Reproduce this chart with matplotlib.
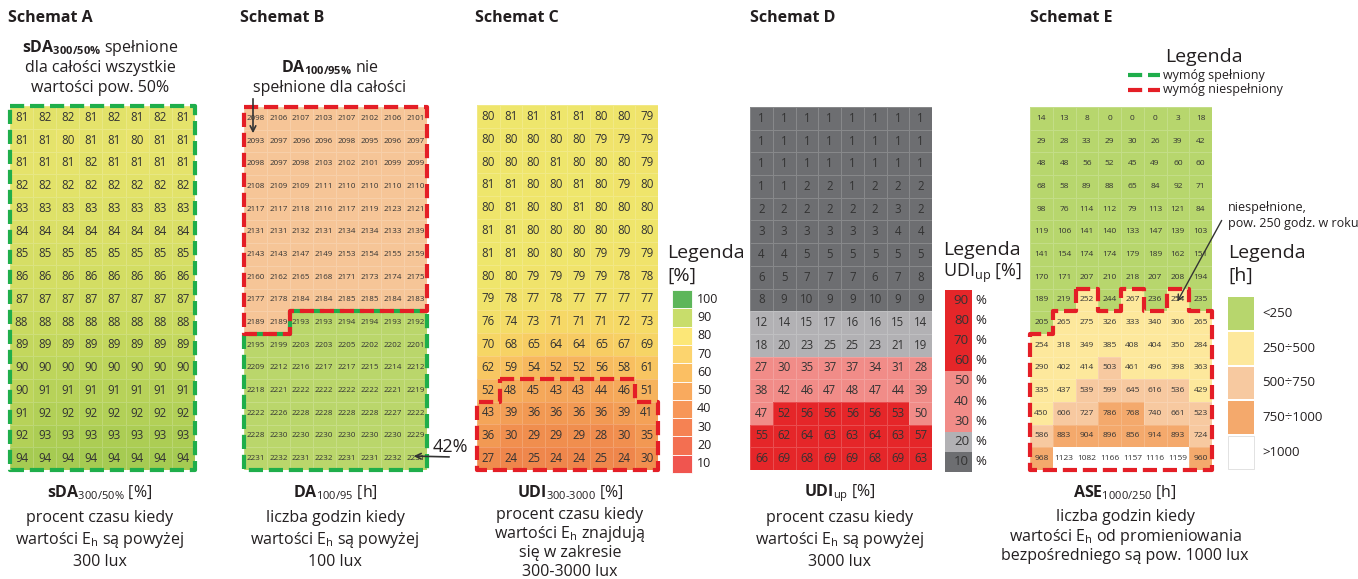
import matplotlib
matplotlib.use("Agg")
import matplotlib.pyplot as plt
import numpy as np
from matplotlib.colors import LinearSegmentedColormap, ListedColormap, BoundaryNorm

plt.rcParams['font.family'] = ['Open Sans', 'DejaVu Sans']
plt.rcParams['mathtext.fontset'] = 'custom'
plt.rcParams['mathtext.rm'] = 'Open Sans'
plt.rcParams['mathtext.bf'] = 'Open Sans:bold'
plt.rcParams['mathtext.it'] = 'Open Sans:italic'

W, H = 1358, 579

# --- dane ---
sda = [[81, 82, 82, 81, 82, 81, 82, 81],
       [81, 81, 80, 81, 81, 80, 81, 81],
       [81, 81, 81, 82, 81, 81, 81, 81],
       [82, 82, 82, 82, 82, 82, 82, 82],
       [83, 83, 83, 83, 83, 83, 83, 83],
       [84, 84, 84, 84, 84, 84, 84, 84],
       [85, 85, 85, 85, 85, 85, 85, 85],
       [86, 86, 86, 86, 86, 86, 86, 86],
       [87, 87, 87, 87, 87, 87, 87, 87],
       [88, 88, 88, 88, 88, 88, 88, 88],
       [89, 89, 89, 89, 89, 89, 89, 89],
       [90, 90, 90, 90, 90, 90, 90, 90],
       [90, 91, 91, 91, 91, 91, 91, 91],
       [91, 92, 92, 92, 92, 92, 92, 92],
       [92, 93, 93, 93, 93, 93, 93, 93],
       [94, 94, 94, 94, 94, 94, 94, 94]]

da = [[2098, 2106, 2107, 2103, 2107, 2102, 2106, 2101],
      [2093, 2097, 2096, 2096, 2098, 2095, 2096, 2097],
      [2098, 2097, 2098, 2103, 2102, 2101, 2099, 2099],
      [2108, 2109, 2109, 2111, 2110, 2110, 2110, 2110],
      [2117, 2117, 2118, 2116, 2117, 2119, 2123, 2121],
      [2131, 2131, 2132, 2131, 2134, 2134, 2133, 2139],
      [2143, 2143, 2147, 2149, 2153, 2154, 2155, 2159],
      [2160, 2162, 2165, 2168, 2171, 2173, 2174, 2175],
      [2177, 2178, 2184, 2184, 2185, 2185, 2184, 2183],
      [2189, 2189, 2193, 2193, 2194, 2194, 2193, 2192],
      [2195, 2199, 2203, 2203, 2205, 2202, 2202, 2201],
      [2209, 2212, 2216, 2217, 2217, 2215, 2214, 2212],
      [2218, 2221, 2222, 2222, 2222, 2222, 2221, 2219],
      [2222, 2226, 2228, 2228, 2228, 2228, 2227, 2222],
      [2228, 2230, 2230, 2230, 2230, 2230, 2230, 2229],
      [2231, 2232, 2231, 2232, 2231, 2231, 2232, 2231]]

udi = [[80, 81, 81, 81, 81, 80, 80, 79],
       [80, 80, 80, 80, 80, 79, 79, 79],
       [80, 80, 80, 81, 80, 80, 80, 79],
       [81, 81, 80, 80, 81, 80, 79, 80],
       [80, 81, 80, 80, 81, 80, 80, 80],
       [81, 81, 80, 80, 80, 80, 80, 80],
       [81, 81, 80, 80, 80, 79, 79, 79],
       [80, 80, 79, 79, 79, 79, 78, 78],
       [79, 78, 77, 78, 77, 77, 77, 77],
       [76, 74, 73, 71, 71, 71, 72, 73],
       [70, 68, 65, 64, 64, 65, 67, 69],
       [62, 59, 54, 52, 52, 56, 58, 61],
       [52, 48, 45, 43, 43, 44, 46, 51],
       [43, 39, 36, 36, 36, 36, 39, 41],
       [36, 30, 29, 29, 29, 28, 30, 35],
       [27, 24, 25, 24, 24, 25, 24, 30]]

udi_up = [[1, 1, 1, 1, 1, 1, 1, 1],
          [1, 1, 1, 1, 1, 1, 1, 1],
          [1, 1, 1, 1, 1, 1, 1, 1],
          [1, 1, 2, 2, 1, 2, 2, 2],
          [2, 2, 2, 2, 2, 2, 3, 2],
          [3, 3, 3, 3, 3, 3, 4, 4],
          [4, 4, 5, 5, 5, 5, 5, 5],
          [6, 5, 7, 7, 7, 6, 7, 8],
          [8, 9, 10, 9, 9, 10, 9, 9],
          [12, 14, 15, 17, 16, 16, 15, 14],
          [18, 20, 23, 25, 25, 23, 21, 19],
          [27, 30, 35, 37, 37, 34, 31, 28],
          [38, 42, 46, 47, 48, 47, 44, 39],
          [47, 52, 56, 56, 56, 56, 53, 50],
          [55, 62, 64, 63, 63, 64, 63, 57],
          [66, 69, 68, 69, 69, 68, 69, 63]]

ase = [[14, 13, 8, 0, 0, 0, 3, 18],
       [29, 28, 33, 29, 30, 26, 39, 42],
       [48, 48, 56, 52, 45, 49, 60, 60],
       [68, 58, 89, 88, 65, 84, 92, 71],
       [98, 76, 114, 112, 79, 113, 121, 84],
       [119, 106, 141, 140, 133, 147, 139, 103],
       [141, 154, 174, 174, 179, 189, 162, 151],
       [170, 171, 207, 210, 218, 207, 208, 194],
       [189, 219, 252, 244, 267, 236, 254, 235],
       [205, 265, 275, 326, 333, 340, 306, 265],
       [254, 318, 349, 385, 408, 404, 350, 284],
       [290, 402, 414, 503, 461, 496, 398, 363],
       [335, 437, 539, 599, 645, 616, 536, 429],
       [450, 606, 727, 786, 768, 740, 661, 523],
       [586, 883, 904, 896, 856, 914, 893, 724],
       [968, 1123, 1082, 1166, 1157, 1116, 1159, 960]]

udi_legend = [100, 90, 80, 70, 60, 50, 40, 30, 20, 10]
udi_up_legend = [90, 80, 70, 60, 50, 40, 30, 20, 10]
ase_legend = ['<250', '250÷500', '500÷750', '750÷1000', '>1000']

# --- kolory ---
udi_leg_colors = ['#5db65a', '#c8dd6b', '#fce777', '#fcd46e', '#fbbf63',
                  '#f9aa5e', '#f79658', '#f58253', '#f36f51', '#f0554f']
cmap_a = LinearSegmentedColormap.from_list('a', ['#e9e46c', '#cfdc62', '#a6cb52'])
cmap_c = LinearSegmentedColormap.from_list(
    'c', [(0.0, '#ef864b'), (0.37, '#f5a85a'), (0.63, '#f8c361'),
          (0.84, '#f6d966'), (1.0, '#eee66c')])
cmap_b = ListedColormap(['#f6c597', '#bad66b'])
norm_b = BoundaryNorm([0, 2190, 3000], 2)
cmap_d = ListedColormap(['#6d6e71', '#b2b1b4', '#f18c88', '#e52629'])
norm_d = BoundaryNorm([0, 10.5, 25.5, 50.5, 100], 4)
ase_colors = ['#b7d66d', '#fde89c', '#f7c9a0', '#f4a96c', '#ffffff']
cmap_e = ListedColormap(ase_colors)
norm_e = BoundaryNorm([0, 250, 500, 750, 1000, 2000], 5)

GREEN = '#1fae4b'
RED = '#e41e26'
TXT = '#231f20'

fig = plt.figure(figsize=(W / 100, H / 100), dpi=100)


def px_axes(x0, y0, x1, y1):
    ax = fig.add_axes([x0 / W, 1 - y1 / H, (x1 - x0) / W, (y1 - y0) / H])
    return ax


def outline(ax, mask, color):
    rows, cols = mask.shape

    def inside(r, c):
        return 0 <= r < rows and 0 <= c < cols and mask[r, c]

    edges = {}
    for r in range(rows):
        for c in range(cols):
            if not mask[r, c]:
                continue
            if not inside(r - 1, c):
                edges.setdefault((c, r), []).append((c + 1, r))
            if not inside(r, c + 1):
                edges.setdefault((c + 1, r), []).append((c + 1, r + 1))
            if not inside(r + 1, c):
                edges.setdefault((c + 1, r + 1), []).append((c, r + 1))
            if not inside(r, c - 1):
                edges.setdefault((c, r + 1), []).append((c, r))
    while edges:
        start = next(iter(edges))
        path = [start]
        p = start
        while True:
            nxt = edges[p].pop()
            if not edges[p]:
                del edges[p]
            path.append(nxt)
            p = nxt
            if p == start or p not in edges:
                break
        xs, ys = zip(*path)
        ax.plot(xs, ys, color=color, lw=3, linestyle=(0, (3.4, 1.4)),
                clip_on=False, dash_capstyle='butt', zorder=5)


def grid(box, data, cmap, norm, fs):
    ax = px_axes(*box)
    arr = np.array(data)
    ax.pcolormesh(np.arange(9), np.arange(17), arr, cmap=cmap, norm=norm,
                  edgecolors=(1, 1, 1, 0.18), linewidth=0.5)
    for r in range(arr.shape[0]):
        for c in range(arr.shape[1]):
            ax.text(c + 0.5, r + 0.5, str(arr[r, c]), ha='center', va='center',
                    fontsize=fs, color='#333333')
    ax.set_xlim(0, 8)
    ax.set_ylim(16, 0)
    ax.axis('off')
    return ax, arr


axA, arrA = grid((10, 106, 195, 470), sda, cmap_a, plt.Normalize(80, 94), 8.3)
outline(axA, np.ones_like(arrA, dtype=bool), GREEN)

axB, arrB = grid((244, 107, 427, 470), da, cmap_b, norm_b, 5.8)
outline(axB, arrB >= 2190, GREEN)
outline(axB, arrB < 2190, RED)

axC, arrC = grid((477, 105, 658, 470), udi, cmap_c, plt.Normalize(24, 81), 8.3)
outline(axC, arrC < 50, RED)

axD, arrD = grid((750, 107, 932, 470), udi_up, cmap_d, norm_d, 8.3)

axE, arrE = grid((1030, 107, 1212, 470), ase, cmap_e, norm_e, 6.0)
outline(axE, arrE > 250, RED)

# --- warstwa tekstu ---
ov = fig.add_axes([0, 0, 1, 1])
ov.set_xlim(0, W)
ov.set_ylim(H, 0)
ov.axis('off')

for x, name in zip([8, 240, 475, 750, 1030], 'ABCDE'):
    ov.text(x, 18, f'Schemat {name}', fontsize=11.5, fontweight='bold',
            color=TXT, va='center')

fs = 11.5
ov.text(100, 48, r'$\mathbf{sDA}_{\mathbf{300/50\%}}$ spełnione', fontsize=fs,
        ha='center', va='center', color=TXT)
ov.text(100, 68, 'dla całości wszystkie', fontsize=fs, ha='center', va='center', color=TXT)
ov.text(100, 88, 'wartości pow. 50%', fontsize=fs, ha='center', va='center', color=TXT)

ov.text(330, 68, r'$\mathbf{DA}_{\mathbf{100/95\%}}$ nie', fontsize=fs,
        ha='center', va='center', color=TXT)
ov.text(330, 88, 'spełnione dla całości', fontsize=fs, ha='center', va='center', color=TXT)
ov.annotate('', xy=(253, 136), xytext=(253, 96),
            arrowprops=dict(arrowstyle='->', color='#333333', lw=1.2))

ov.text(450, 447, '42%', fontsize=13, ha='center', va='center', color=TXT)
ov.annotate('', xy=(411, 456), xytext=(452, 457),
            arrowprops=dict(arrowstyle='->', color='#333333', lw=1.2))

# dolne opisy
bottom = [
    (100, r'$\mathbf{sDA}_{\mathrm{300/50\%}}$ [%]',
     ['procent czasu kiedy', r'wartości $\mathrm{E}_{\mathrm{h}}$ są powyżej', '300 lux'],
     [518, 540, 562]),
    (335, r'$\mathbf{DA}_{\mathrm{100/95}}$ [h]',
     ['liczba godzin kiedy', r'wartości $\mathrm{E}_{\mathrm{h}}$ są powyżej', '100 lux'],
     [518, 540, 562]),
    (570, r'$\mathbf{UDI}_{\mathrm{300\text{-}3000}}$ [%]',
     ['procent czasu kiedy', r'wartości $\mathrm{E}_{\mathrm{h}}$ znajdują',
      'się w zakresie', '300-3000 lux'],
     [515, 534, 553, 572]),
    (840, r'$\mathbf{UDI}_{\mathrm{up}}$ [%]',
     ['procent czasu kiedy', r'wartości $\mathrm{E}_{\mathrm{h}}$ są powyżej', '3000 lux'],
     [518, 540, 562]),
    (1125, r'$\mathbf{ASE}_{\mathrm{1000/250}}$ [h]',
     ['liczba godzin kiedy', r'wartości $\mathrm{E}_{\mathrm{h}}$ od promieniowania',
      'bezpośredniego są pow. 1000 lux'],
     [517, 537, 556]),
]
for x, head, lines, ys in bottom:
    ov.text(x, 493, head, fontsize=fs, ha='center', va='center', color=TXT)
    for line, y in zip(lines, ys):
        ov.text(x, y, line, fontsize=fs, ha='center', va='center', color=TXT)

# legenda C
ov.text(667, 253, 'Legenda', fontsize=14, va='center', color=TXT)
ov.text(667, 276, '[%]', fontsize=14, va='center', color=TXT)
step = (473 - 290) / len(udi_legend)
for i, (v, col) in enumerate(zip(udi_legend, udi_leg_colors)):
    y0 = 290 + i * step
    ov.add_patch(plt.Rectangle((672, y0), 20, step, facecolor=col,
                               edgecolor='white', lw=0.6))
    ov.text(697, y0 + step / 2, str(v), fontsize=9, va='center', color=TXT)

# legenda D
ov.text(943, 250, 'Legenda', fontsize=14, va='center', color=TXT)
ov.text(943, 273, r'$\mathrm{UDI}_{\mathrm{up}}$ [%]', fontsize=13, va='center', color=TXT)
step = (472 - 290) / len(udi_up_legend)
for i, v in enumerate(udi_up_legend):
    y0 = 290 + i * step
    ov.add_patch(plt.Rectangle((945, y0), 27, step, facecolor=cmap_d(norm_d(v)),
                               edgecolor='none'))
    ov.text(969, y0 + step / 2, str(v), fontsize=9.5, ha='right', va='center', color='#333333')
    ov.text(975, y0 + step / 2, '%', fontsize=9.5, va='center', color=TXT)

# legenda E (wymogi)
ov.text(1165, 57, 'Legenda', fontsize=14, va='center', color=TXT)
ov.plot([1128, 1160], [75, 75], color=GREEN, lw=3, linestyle=(0, (3.4, 1.4)))
ov.plot([1128, 1160], [90, 90], color=RED, lw=3, linestyle=(0, (3.4, 1.4)))
ov.text(1163, 75, 'wymóg spełniony', fontsize=9, va='center', color=TXT)
ov.text(1163, 90, 'wymóg niespełniony', fontsize=9, va='center', color=TXT)

ov.text(1228, 207, 'niespełnione,', fontsize=9, va='center', color=TXT)
ov.text(1228, 223, 'pow. 250 godz. w roku', fontsize=9, va='center', color=TXT)
ov.annotate('', xy=(1176, 304), xytext=(1223, 218),
            arrowprops=dict(arrowstyle='->', color='#333333', lw=1))

ov.text(1228, 253, 'Legenda', fontsize=14, va='center', color=TXT)
ov.text(1228, 276, '[h]', fontsize=14, va='center', color=TXT)
step = (470 - 296) / len(ase_legend)
for i, (lab, col) in enumerate(zip(ase_legend, ase_colors)):
    y0 = 296 + i * step
    ov.add_patch(plt.Rectangle((1228, y0 + 1), 26, step - 2, facecolor=col,
                               edgecolor='#dddddd' if col == '#ffffff' else 'none', lw=0.6))
    ov.text(1262, y0 + step / 2, lab, fontsize=9.5, va='center', color=TXT)

fig.savefig('out.png', dpi=100)
